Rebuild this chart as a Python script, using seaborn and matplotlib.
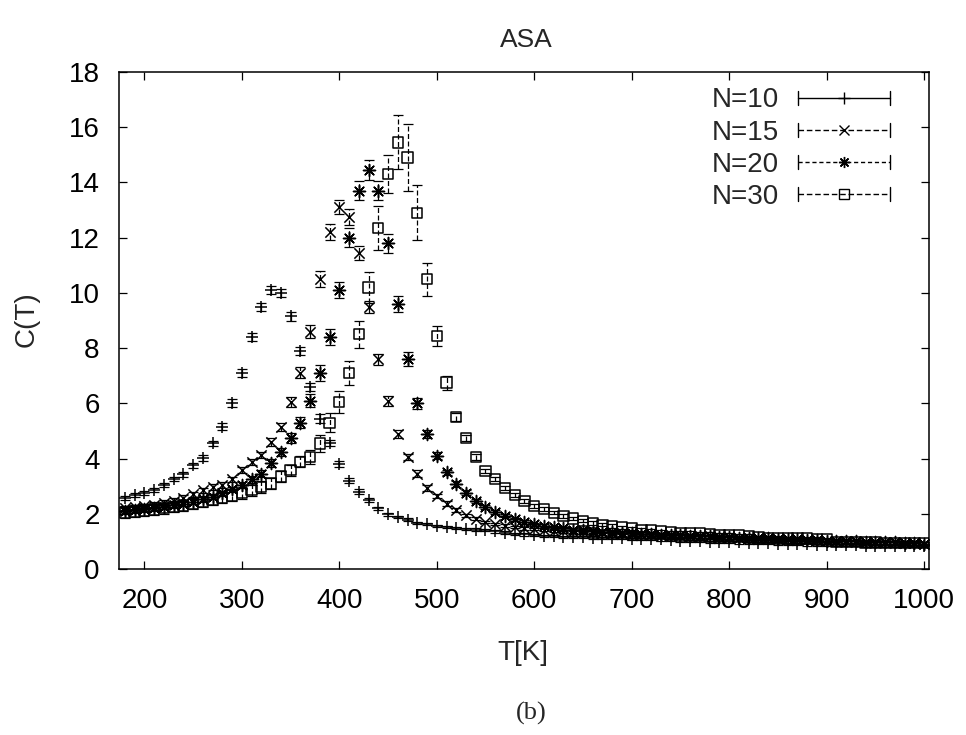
import matplotlib
matplotlib.use("Agg")
import matplotlib.pyplot as plt
from matplotlib.legend_handler import HandlerBase
from matplotlib.lines import Line2D
import numpy as np
import pandas as pd
import seaborn as sns

# ---------------- data ----------------
T = [180, 190, 200, 210, 220, 230, 240, 250, 260, 270,
     280, 290, 300, 310, 320, 330, 340, 350, 360, 370,
     380, 390, 400, 410, 420, 430, 440, 450, 460, 470,
     480, 490, 500, 510, 520, 530, 540, 550, 560, 570,
     580, 590, 600, 610, 620, 630, 640, 650, 660, 670,
     680, 690, 700, 710, 720, 730, 740, 750, 760, 770,
     780, 790, 800, 810, 820, 830, 840, 850, 860, 870,
     880, 890, 900, 910, 920, 930, 940, 950, 960, 970,
     980, 990, 1000]

series_names = ["N=10", "N=15", "N=20", "N=30"]

C_N10 = [2.57, 2.68, 2.75, 2.86, 3.04, 3.25, 3.43, 3.75, 4.02, 4.55,
         5.15, 6.00, 7.10, 8.40, 9.50, 10.10, 10.00, 9.15, 7.90, 6.60,
         5.45, 4.56, 3.80, 3.20, 2.80, 2.50, 2.20, 1.98, 1.88, 1.78,
         1.68, 1.62, 1.57, 1.52, 1.49, 1.46, 1.43, 1.40, 1.36, 1.32,
         1.28, 1.25, 1.22, 1.20, 1.19, 1.17, 1.16, 1.15, 1.14, 1.13,
         1.12, 1.11, 1.10, 1.09, 1.08, 1.07, 1.05, 1.03, 1.01, 1.00,
         0.99, 0.98, 0.97, 0.96, 0.95, 0.94, 0.93, 0.92, 0.91, 0.90,
         0.89, 0.88, 0.88, 0.87, 0.86, 0.86, 0.85, 0.84, 0.84, 0.83,
         0.83, 0.82, 0.82]
E_N10 = [0.06, 0.06, 0.06, 0.07, 0.07, 0.08, 0.08, 0.09, 0.10, 0.10,
         0.12, 0.15, 0.15, 0.15, 0.15, 0.15, 0.15, 0.15, 0.15, 0.15,
         0.15, 0.12, 0.10, 0.10, 0.08, 0.07, 0.06, 0.05, 0.05, 0.05,
         0.04, 0.04, 0.04, 0.04, 0.04, 0.04, 0.04, 0.04, 0.04, 0.04,
         0.04, 0.04, 0.04, 0.04, 0.04, 0.04, 0.04, 0.04, 0.04, 0.04,
         0.04, 0.04, 0.04, 0.04, 0.04, 0.04, 0.04, 0.04, 0.04, 0.04,
         0.04, 0.04, 0.04, 0.04, 0.04, 0.04, 0.04, 0.04, 0.04, 0.04,
         0.04, 0.04, 0.04, 0.04, 0.04, 0.04, 0.04, 0.04, 0.04, 0.04,
         0.04, 0.04, 0.04]

C_N15 = [2.20, 2.24, 2.28, 2.33, 2.40, 2.48, 2.58, 2.70, 2.85, 2.97,
         3.04, 3.25, 3.58, 3.88, 4.13, 4.60, 5.15, 6.05, 7.10, 8.60,
         10.50, 12.20, 13.10, 12.75, 11.45, 9.50, 7.60, 6.10, 4.90, 4.05,
         3.45, 2.93, 2.64, 2.37, 2.13, 1.95, 1.82, 1.70, 1.63, 1.57,
         1.52, 1.48, 1.45, 1.42, 1.39, 1.37, 1.35, 1.33, 1.31, 1.29,
         1.27, 1.26, 1.24, 1.23, 1.22, 1.21, 1.19, 1.18, 1.17, 1.16,
         1.15, 1.14, 1.13, 1.12, 1.11, 1.10, 1.09, 1.08, 1.07, 1.06,
         1.05, 1.04, 1.03, 1.01, 1.00, 0.99, 0.98, 0.97, 0.96, 0.95,
         0.94, 0.93, 0.92]
E_N15 = [0.08, 0.08, 0.08, 0.08, 0.09, 0.09, 0.10, 0.10, 0.10, 0.10,
         0.10, 0.10, 0.12, 0.12, 0.12, 0.15, 0.15, 0.18, 0.20, 0.22,
         0.30, 0.30, 0.25, 0.28, 0.25, 0.22, 0.20, 0.18, 0.15, 0.12,
         0.12, 0.10, 0.08, 0.08, 0.07, 0.06, 0.06, 0.05, 0.05, 0.05,
         0.05, 0.05, 0.05, 0.05, 0.05, 0.05, 0.05, 0.05, 0.05, 0.05,
         0.05, 0.05, 0.05, 0.05, 0.05, 0.05, 0.05, 0.05, 0.05, 0.05,
         0.05, 0.05, 0.05, 0.05, 0.05, 0.05, 0.05, 0.05, 0.05, 0.05,
         0.05, 0.05, 0.05, 0.05, 0.05, 0.05, 0.05, 0.05, 0.05, 0.05,
         0.05, 0.05, 0.05]

C_N20 = [2.10, 2.13, 2.17, 2.21, 2.26, 2.31, 2.37, 2.44, 2.52, 2.62,
         2.74, 2.88, 3.05, 3.25, 3.45, 3.83, 4.25, 4.73, 5.30, 6.10,
         7.10, 8.40, 10.10, 12.00, 13.70, 14.45, 13.70, 11.80, 9.60, 7.60,
         6.00, 4.90, 4.10, 3.50, 3.08, 2.77, 2.47, 2.25, 2.07, 1.93,
         1.80, 1.70, 1.62, 1.56, 1.51, 1.47, 1.43, 1.40, 1.37, 1.35,
         1.33, 1.31, 1.29, 1.27, 1.26, 1.24, 1.23, 1.22, 1.21, 1.19,
         1.18, 1.17, 1.15, 1.14, 1.13, 1.12, 1.11, 1.10, 1.09, 1.07,
         1.06, 1.05, 1.03, 1.02, 1.01, 1.00, 0.99, 0.98, 0.97, 0.96,
         0.95, 0.94, 0.92]
E_N20 = [0.10, 0.10, 0.10, 0.10, 0.10, 0.10, 0.10, 0.10, 0.10, 0.10,
         0.10, 0.10, 0.10, 0.12, 0.12, 0.15, 0.15, 0.18, 0.20, 0.25,
         0.30, 0.30, 0.30, 0.35, 0.35, 0.35, 0.35, 0.35, 0.30, 0.25,
         0.20, 0.15, 0.12, 0.10, 0.10, 0.08, 0.08, 0.07, 0.06, 0.06,
         0.06, 0.06, 0.06, 0.06, 0.06, 0.06, 0.06, 0.06, 0.06, 0.06,
         0.06, 0.06, 0.06, 0.06, 0.06, 0.06, 0.06, 0.06, 0.06, 0.06,
         0.06, 0.06, 0.06, 0.06, 0.06, 0.06, 0.06, 0.06, 0.06, 0.06,
         0.06, 0.06, 0.06, 0.06, 0.06, 0.06, 0.06, 0.06, 0.06, 0.06,
         0.06, 0.06, 0.06]

C_N30 = [2.05, 2.08, 2.12, 2.16, 2.20, 2.25, 2.30, 2.36, 2.43, 2.50,
         2.58, 2.66, 2.75, 2.86, 2.97, 3.10, 3.35, 3.58, 3.88, 4.06,
         4.55, 5.30, 6.05, 7.10, 8.50, 10.20, 12.35, 14.30, 15.45, 14.90,
         12.90, 10.50, 8.44, 6.75, 5.50, 4.75, 4.05, 3.55, 3.26, 2.94,
         2.68, 2.46, 2.28, 2.17, 2.04, 1.92, 1.83, 1.75, 1.67, 1.60,
         1.56, 1.51, 1.47, 1.42, 1.39, 1.36, 1.33, 1.31, 1.30, 1.29,
         1.27, 1.24, 1.23, 1.22, 1.20, 1.14, 1.13, 1.12, 1.11, 1.10,
         1.10, 1.09, 1.08, 0.98, 0.97, 0.97, 0.96, 0.96, 0.95, 0.95,
         0.94, 0.94, 0.93]
E_N30 = [0.20, 0.20, 0.20, 0.20, 0.20, 0.20, 0.20, 0.20, 0.20, 0.20,
         0.20, 0.20, 0.20, 0.20, 0.20, 0.20, 0.20, 0.20, 0.20, 0.25,
         0.30, 0.35, 0.40, 0.45, 0.50, 0.55, 0.80, 0.70, 0.98, 1.20,
         1.00, 0.60, 0.35, 0.25, 0.15, 0.12, 0.10, 0.08, 0.08, 0.08,
         0.07, 0.07, 0.07, 0.07, 0.06, 0.06, 0.06, 0.06, 0.06, 0.06,
         0.06, 0.06, 0.06, 0.06, 0.06, 0.06, 0.06, 0.06, 0.06, 0.06,
         0.06, 0.06, 0.06, 0.06, 0.06, 0.06, 0.06, 0.06, 0.06, 0.06,
         0.06, 0.06, 0.06, 0.06, 0.06, 0.06, 0.06, 0.06, 0.06, 0.06,
         0.06, 0.06, 0.06]

x_ticks = [200, 300, 400, 500, 600, 700, 800, 900, 1000]
y_ticks = [0, 2, 4, 6, 8, 10, 12, 14, 16, 18]

values = [C_N10, C_N15, C_N20, C_N30]
errors = [E_N10, E_N15, E_N20, E_N30]

frames = []
for name, c, e in zip(series_names, values, errors):
    assert len(c) == len(T) and len(e) == len(T)
    frames.append(pd.DataFrame({"T": T, "C": c, "err": e, "N": name}))
df = pd.concat(frames, ignore_index=True)

# ---------------- style ----------------
sns.set_theme(style="white")
plt.rcParams["font.family"] = ["Liberation Sans", "DejaVu Sans"]

markers = {"N=10": "+", "N=15": "x", "N=20": (8, 2, 0), "N=30": "s"}
msizes = {"N=10": 85, "N=15": 55, "N=20": 75, "N=30": 55}
bar_ls = {"N=10": "-", "N=15": (0, (4, 2)), "N=20": (0, (3, 2)), "N=30": (0, (4, 2))}

fig = plt.figure(figsize=(9.66, 7.35), dpi=100)
ax = fig.add_axes([119 / 966, 166 / 735, 810 / 966, 497 / 735])

for name in series_names:
    sub = df[df["N"] == name]
    eb = ax.errorbar(sub["T"], sub["C"], yerr=sub["err"], fmt="none",
                     ecolor="black", elinewidth=0.9, capsize=3.5, capthick=0.9,
                     zorder=2)
    for lc in eb[2]:
        lc.set_linestyle(bar_ls[name])
    sns.scatterplot(data=sub, x="T", y="C", marker=markers[name],
                    s=msizes[name], color="black", linewidth=1.1,
                    ax=ax, legend=False, zorder=3)
    if name == "N=30":
        ax.collections[-1].set_facecolor("none")
        ax.collections[-1].set_edgecolor("black")

ax.set_xlim(174, 1005)
ax.set_ylim(0, 18)
ax.set_xticks(x_ticks)
ax.set_yticks(y_ticks)
ax.set_xlabel("")
ax.set_ylabel("")
for sp in ax.spines.values():
    sp.set_color("black")
    sp.set_linewidth(1.1)
ax.tick_params(axis="both", which="major", direction="in", length=6, width=0.9,
               top=True, right=True, bottom=True, left=True,
               labelsize=20, colors="black")
ax.tick_params(axis="x", pad=14)
ax.tick_params(axis="y", pad=14)


# ---------------- gnuplot-like legend ----------------
class GPEntry:
    def __init__(self, marker, ms, ls, mfc):
        self.marker = marker
        self.ms = ms
        self.ls = ls
        self.mfc = mfc


class GPHandler(HandlerBase):
    def create_artists(self, legend, h, xdescent, ydescent, width, height,
                       fontsize, trans):
        y = height / 2 - ydescent
        x0 = -xdescent
        x1 = width - xdescent
        cap = 5
        arts = [
            Line2D([x0, x1], [y, y], color="black", lw=1.0, linestyle=h.ls),
            Line2D([x0, x0], [y - cap, y + cap], color="black", lw=1.0),
            Line2D([x1, x1], [y - cap, y + cap], color="black", lw=1.0),
            Line2D([(x0 + x1) / 2], [y], marker=h.marker, markersize=h.ms,
                   markerfacecolor=h.mfc, markeredgecolor="black",
                   markeredgewidth=1.0, linestyle="none"),
        ]
        for a in arts:
            a.set_transform(trans)
        return arts


entries = [GPEntry("+", 9, "-", "black"),
           GPEntry("x", 7, (0, (4, 2)), "black"),
           GPEntry((8, 2, 0), 8, (0, (3, 2)), "black"),
           GPEntry("s", 7, (0, (4, 2)), "none")]
ax.legend(entries, series_names, handler_map={GPEntry: GPHandler()},
          loc="upper right", bbox_to_anchor=(771 / 810, 0.969),
          frameon=False, markerfirst=False, fontsize=20,
          handlelength=3.3, handletextpad=0.7, labelspacing=0.22,
          borderpad=0, borderaxespad=0)

# ---------------- texts ----------------
fig.text(526 / 966, 1 - 40 / 735, "ASA", ha="center", va="center", fontsize=19)
fig.text(523 / 966, 1 - 653 / 735, "T[K]", ha="center", va="center", fontsize=20)
fig.text(27 / 966, 1 - 319 / 735, "C(T)", ha="center", va="center",
         rotation=90, fontsize=20)
fig.text(531 / 966, 1 - 713 / 735, "(b)", ha="center", va="center",
         fontsize=19, family="Liberation Serif")

fig.savefig("out.png", dpi=100, facecolor="white")
